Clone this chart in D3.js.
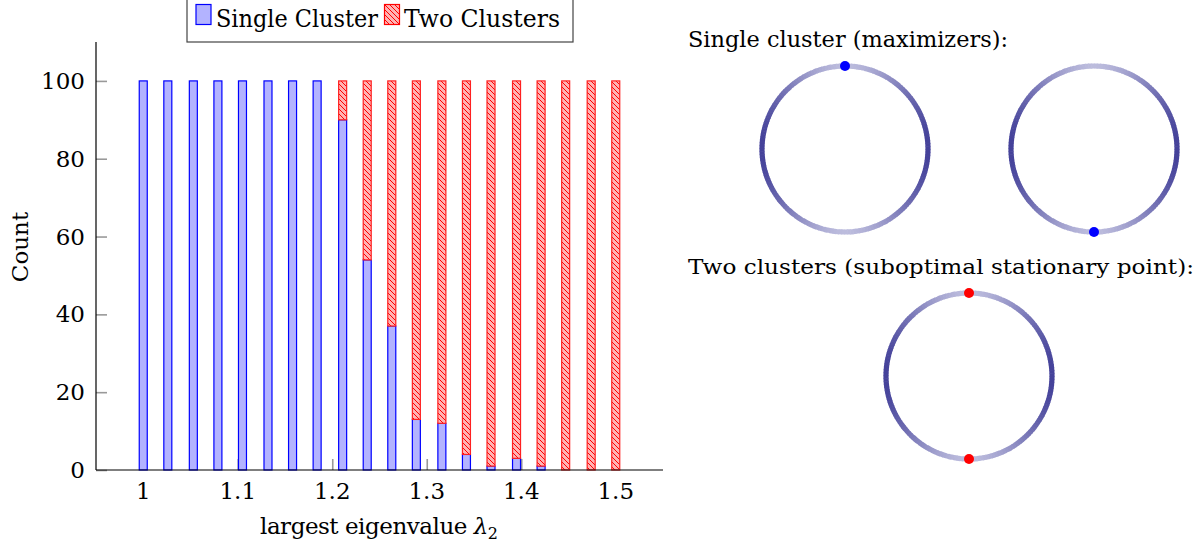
<!DOCTYPE html>
<html>
<head>
<meta charset="utf-8">
<script src="https://cdn.jsdelivr.net/npm/d3@7"></script>
<style>
  body { margin: 0; background: #fff; }
</style>
</head>
<body>
<div class="graph"></div>
<script>
// bar positions (largest eigenvalue) and stacked counts
let lambdas = [1.000, 1.026, 1.053, 1.079, 1.105, 1.132, 1.158, 1.184, 1.211, 1.237,
               1.263, 1.289, 1.316, 1.342, 1.368, 1.395, 1.421, 1.447, 1.474, 1.500];
let singleCluster = [100, 100, 100, 100, 100, 100, 100, 100, 90, 54, 37, 13, 12, 4, 1, 3, 1, 0, 0, 0];
let twoClusters   = [0, 0, 0, 0, 0, 0, 0, 0, 10, 46, 63, 87, 88, 96, 99, 97, 99, 100, 100, 100];
let xTicks = [1, 1.1, 1.2, 1.3, 1.4, 1.5];
let xTickLabels = ["1", "1.1", "1.2", "1.3", "1.4", "1.5"];
let yTicks = [0, 20, 40, 60, 80, 100];
let seriesNames = ["Single Cluster", "Two Clusters"];

// right hand panels: dot angles on the circle (degrees, 0 = top)
let panelTitles = ["Single cluster (maximizers):", "Two clusters (suboptimal stationary point):"];
let dotAngles = [[0], [180], [0, 180]];
let dotColors = ["#0000ff", "#0000ff", "#ff0000"];

let W = 1202, H = 546;
let serif = "'DejaVu Serif', 'Liberation Serif', serif";
let svg = d3.select(".graph").append("svg")
    .attr("width", W)
    .attr("height", H)
    .attr("font-family", serif);

let defs = svg.append("defs");
let pat = defs.append("pattern")
    .attr("id", "nwlines")
    .attr("patternUnits", "userSpaceOnUse")
    .attr("width", 5)
    .attr("height", 5);
pat.append("rect").attr("width", 5).attr("height", 5).attr("fill", "#ffb3b3");
pat.append("path")
    .attr("d", "M-1,-1 L6,6 M-1,4 L1,6 M4,-1 L6,1")
    .attr("stroke", "#ff0000")
    .attr("stroke-width", 1);

let x = d3.scaleLinear().domain([0.95, 1.55]).range([96, 663]);
let y = d3.scaleLinear().domain([0, 110]).range([470, 42]);
let barW = 8;

// ticks (grey, inward)
svg.append("g")
    .attr("transform", "translate(0,470)")
    .call(d3.axisBottom(x).tickValues(xTicks).tickSize(-11).tickFormat(""))
    .call(g => g.select(".domain").remove())
    .call(g => g.selectAll("line").attr("stroke", "#999").attr("stroke-width", 1.6));
svg.append("g")
    .attr("transform", "translate(96,0)")
    .call(d3.axisLeft(y).tickValues(yTicks).tickSize(-11).tickFormat(""))
    .call(g => g.select(".domain").remove())
    .call(g => g.selectAll("line").attr("stroke", "#999").attr("stroke-width", 1.6));

// stacked bars
svg.selectAll(".bar-single")
    .data(lambdas.map((l, i) => ({l: l, v: singleCluster[i]})).filter(d => d.v > 0))
    .enter().append("rect")
    .attr("class", "bar-single")
    .attr("x", d => x(d.l) - barW / 2)
    .attr("y", d => y(d.v))
    .attr("width", barW)
    .attr("height", d => y(0) - y(d.v))
    .attr("fill", "#b3b3ff")
    .attr("stroke", "#0000ff")
    .attr("stroke-width", 1.2);

svg.selectAll(".bar-two")
    .data(lambdas.map((l, i) => ({l: l, s: singleCluster[i], v: twoClusters[i]})).filter(d => d.v > 0))
    .enter().append("rect")
    .attr("class", "bar-two")
    .attr("x", d => x(d.l) - barW / 2)
    .attr("y", d => y(d.s + d.v))
    .attr("width", barW)
    .attr("height", d => y(d.s) - y(d.s + d.v))
    .attr("fill", "url(#nwlines)")
    .attr("stroke", "#ff2020")
    .attr("stroke-width", 1.2);

// axis lines
svg.append("line").attr("x1", 96).attr("x2", 663).attr("y1", 470).attr("y2", 470)
    .attr("stroke", "#000").attr("stroke-width", 1.2);
svg.append("line").attr("x1", 96).attr("x2", 96).attr("y1", 42).attr("y2", 470)
    .attr("stroke", "#000").attr("stroke-width", 1.2);

// tick labels
svg.selectAll(".xlab")
    .data(xTicks)
    .enter().append("text")
    .attr("x", d => x(d))
    .attr("y", 499)
    .attr("text-anchor", "middle")
    .style("font-size", "23px")
    .text((d, i) => xTickLabels[i]);
svg.selectAll(".ylab")
    .data(yTicks)
    .enter().append("text")
    .attr("x", 85)
    .attr("y", d => y(d) + 8)
    .attr("text-anchor", "end")
    .style("font-size", "23px")
    .text(d => d);

// axis titles
let xt = svg.append("text")
    .attr("x", 379)
    .attr("y", 534)
    .attr("text-anchor", "middle")
    .attr("textLength", 238)
    .style("font-size", "23px");
xt.append("tspan").text("largest eigenvalue ");
xt.append("tspan").style("font-style", "italic").text("λ");
xt.append("tspan").attr("dy", 5).style("font-size", "16px").text("2");

svg.append("text")
    .attr("transform", "translate(28,247) rotate(-90)")
    .attr("text-anchor", "middle")
    .style("font-size", "23px")
    .text("Count");

// legend
svg.append("rect")
    .attr("x", 187).attr("y", -2).attr("width", 386).attr("height", 44)
    .attr("fill", "#fff").attr("stroke", "#444").attr("stroke-width", 1.2);
svg.append("rect")
    .attr("x", 196).attr("y", 4.5).attr("width", 15).attr("height", 20)
    .attr("fill", "#b3b3ff").attr("stroke", "#0000ff").attr("stroke-width", 1.2);
svg.append("text")
    .attr("x", 216).attr("y", 27)
    .attr("textLength", 162)
    .attr("lengthAdjust", "spacingAndGlyphs")
    .style("font-size", "24px")
    .text(seriesNames[0]);
svg.append("rect")
    .attr("x", 384.5).attr("y", 4.5).attr("width", 15).attr("height", 20)
    .attr("fill", "url(#nwlines)").attr("stroke", "#ff0000").attr("stroke-width", 1.2);
svg.append("text")
    .attr("x", 404).attr("y", 27)
    .attr("textLength", 156)
    .attr("lengthAdjust", "spacingAndGlyphs")
    .style("font-size", "24px")
    .text(seriesNames[1]);

// right panels
svg.append("text")
    .attr("x", 688).attr("y", 47)
    .attr("textLength", 320)
    .attr("lengthAdjust", "spacingAndGlyphs")
    .style("font-size", "23px")
    .text(panelTitles[0]);
svg.append("text")
    .attr("x", 688).attr("y", 274)
    .attr("textLength", 506)
    .attr("lengthAdjust", "spacingAndGlyphs")
    .style("font-size", "21px")
    .text(panelTitles[1]);

let centers = [[845, 149], [1094, 149], [969, 376]];
let R = 83;
let light = "#bcbcdd", dark = "#45429a";
let ringColor = d3.interpolateRgb(light, dark);
let arc = d3.arc().innerRadius(R - 2.6).outerRadius(R + 2.6);
let steps = d3.range(0, 360, 2);

centers.forEach(function (c, k) {
    let g = svg.append("g").attr("transform", "translate(" + c[0] + "," + c[1] + ")");
    g.selectAll("path")
        .data(steps)
        .enter().append("path")
        .attr("d", d => arc({startAngle: d * Math.PI / 180, endAngle: (d + 2.4) * Math.PI / 180}))
        .attr("fill", d => ringColor(Math.pow(Math.abs(Math.sin((d + 1) * Math.PI / 180)), 1.6)));
    g.selectAll("circle")
        .data(dotAngles[k])
        .enter().append("circle")
        .attr("cx", d => R * Math.sin(d * Math.PI / 180))
        .attr("cy", d => -R * Math.cos(d * Math.PI / 180))
        .attr("r", 5)
        .attr("fill", dotColors[k]);
});
</script>
</body>
</html>
